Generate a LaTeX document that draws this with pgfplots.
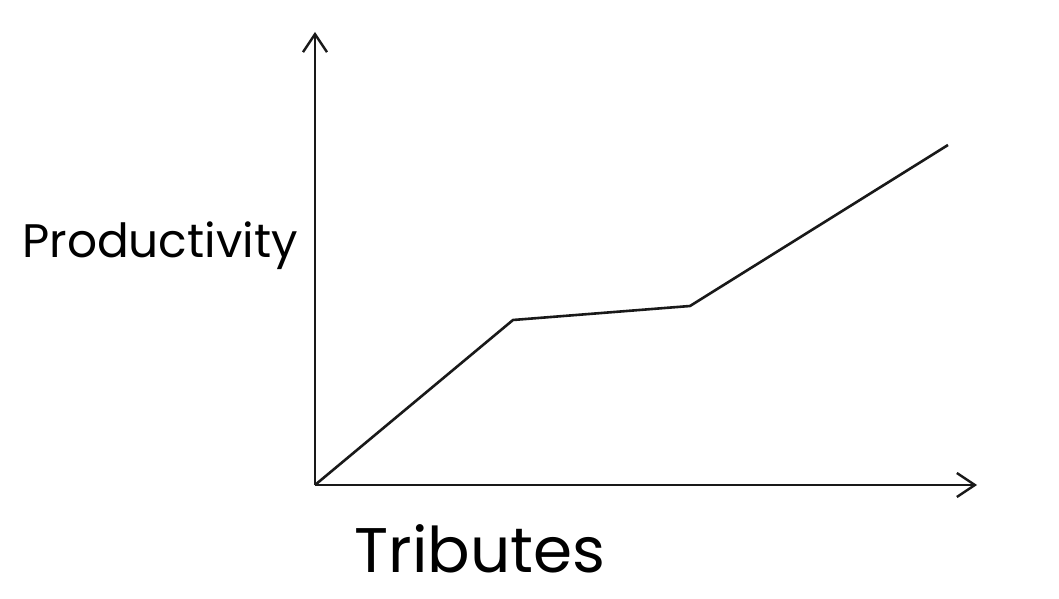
\documentclass[border=0pt]{standalone}
\usepackage{fontspec}
\setmainfont{Poppins}
\usepackage{pgfplots}
\pgfplotsset{compat=1.18}
\usetikzlibrary{arrows.meta}

% one data unit = one pixel of the 1059x599 sketch, origin at the axes' corner
\begin{document}
\begin{tikzpicture}[x=1pt,y=1pt]
  \begin{axis}[
      scale only axis,
      width=662pt, height=453pt,
      xmin=0, xmax=662,
      ymin=0, ymax=453,
      axis x line=bottom,
      axis y line=left,
      axis line style={line width=2.4pt, color=black!90,
        -{Straight Barb[length=18pt,width=24pt,line width=2.4pt]}},
      xtick=\empty, ytick=\empty,
      clip=false,
    ]
    \addplot[line width=2.6pt, color=black!90, line join=round]
      coordinates {(0,0) (198,165) (375,179) (633,340)};

    \node[font=\fontsize{47}{54}\selectfont] at (axis cs:-155,239) {Productivity};
    \node[font=\fontsize{63}{70}\selectfont] at (axis cs:165,-64) {Tributes};

    % page the size of the sketch
    \path (axis cs:-315,-114) rectangle (axis cs:744,485);
  \end{axis}
\end{tikzpicture}
\end{document}
